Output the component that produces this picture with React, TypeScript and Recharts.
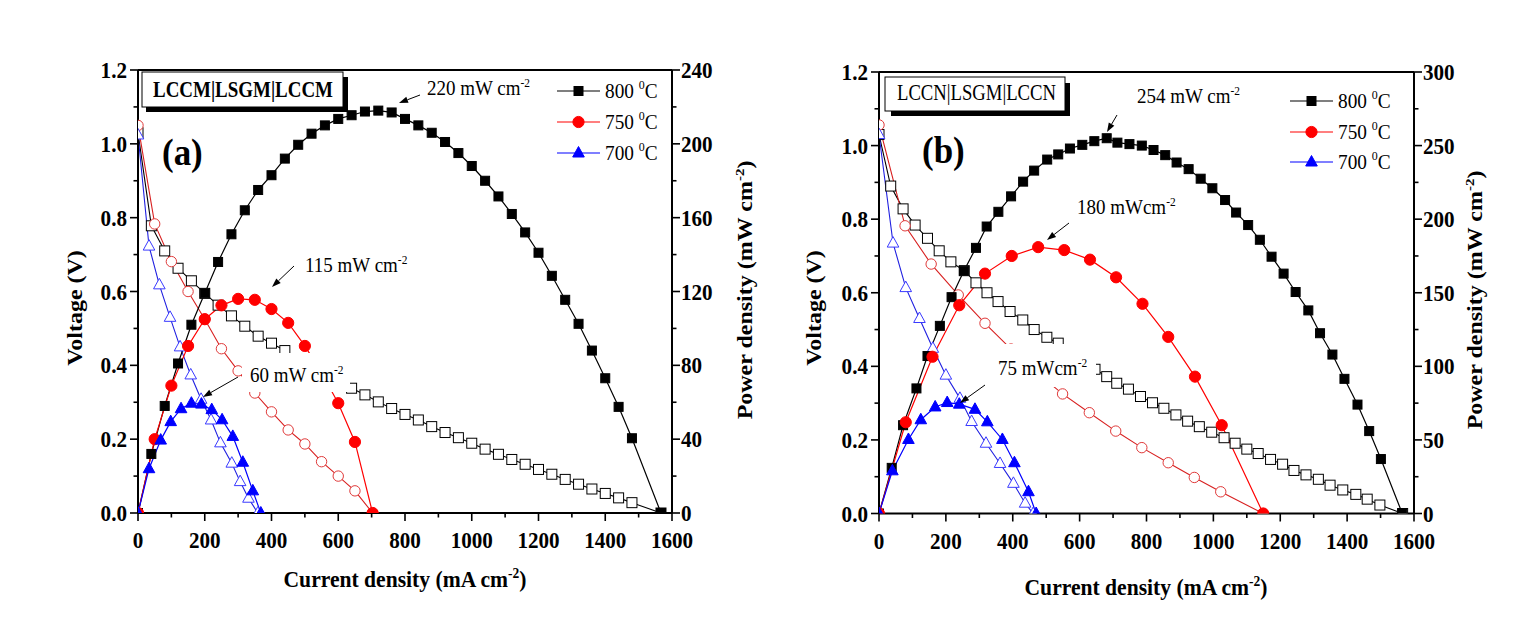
import React from 'react';
import { LineChart, Line, XAxis, YAxis, ReferenceLine } from 'recharts';

// ---------- Panel (a): LCCM|LSGM|LCCM ----------
const a800Px = [0,40,80,120,160,200,240,280,320,360,400,440,480,520,560,600,640,680,720,760,800,840,880,920,960,1000,1040,1080,1120,1160,1200,1240,1280,1320,1360,1400,1440,1480,1567];
const a800P = [0,32,58,81,102,119,136,151,164,175,183,192,199.5,205.5,210,213.5,215.5,217.5,218,217,213.5,210,206,201,195,188,180,171.5,162,152,141,128.5,115.5,102.5,88,73,57.5,40.5,0];
const a800Vx = a800Px;
const a800V = [1.03,0.778,0.71,0.663,0.629,0.595,0.563,0.534,0.506,0.479,0.46,0.44,0.415,0.395,0.375,0.356,0.338,0.32,0.301,0.283,0.267,0.252,0.234,0.218,0.204,0.189,0.173,0.159,0.145,0.132,0.118,0.105,0.091,0.078,0.065,0.053,0.041,0.028,0];

const a750Px = [0,50,100,150,200,250,300,350,400,450,500,550,600,650,703];
const a750P = [0,40,69,90.5,105,112.5,116,115.5,110.5,103,90.5,76,59.5,38.5,0];
const a750Vx = [0,50,100,150,200,250,300,350,400,450,500,550,600,650,703];
const a750V = [1.05,0.783,0.681,0.6,0.525,0.445,0.385,0.325,0.274,0.225,0.187,0.139,0.1,0.06,0];

const a700Px = [0,33,68,98,129,160,190,221,252,284,314,344,368];
const a700P = [0,24,39.5,49.5,56.5,59.5,59,56,50.5,41.5,27.5,12,0];
const a700Vx = [0,33,64,96,126,158,189,219,247,281,306,331,359];
const a700V = [1.024,0.723,0.618,0.53,0.45,0.374,0.308,0.252,0.19,0.135,0.085,0.04,0];

// ---------- Panel (b): LCCN|LSGM|LCCN ----------
const b800Px = [0,38,72,112,145,182,217,254,290,322,357,395,431,464,503,536,571,608,644,681,713,749,786,821,856,890,926,962,997,1035,1068,1104,1139,1174,1210,1246,1284,1319,1356,1392,1431,1466,1501,1565];
const b800P = [0,31,60,85,107,127.5,147,165,180.5,195,205,215.5,225.5,233,240.5,244,248,250.5,253,255,252,251,250,247,243.5,238.5,234,227.5,221,213,204.5,196,186,174.5,163,150.5,138,122.5,108,91.5,74,56,37,0];
const b800Vx = [0,35,72,108,145,180,215,255,290,323,356,392,430,464,502,536,571,608,646,681,711,746,782,818,852,888,923,958,995,1032,1065,1100,1134,1171,1207,1241,1277,1314,1349,1387,1426,1460,1498,1566];
const b800V = [1.03,0.89,0.828,0.784,0.748,0.714,0.684,0.66,0.627,0.6,0.576,0.549,0.526,0.5,0.479,0.463,0.44,0.42,0.392,0.372,0.354,0.338,0.318,0.301,0.286,0.268,0.251,0.236,0.221,0.206,0.191,0.175,0.163,0.147,0.134,0.117,0.105,0.093,0.077,0.064,0.052,0.039,0.023,0];

const b750Px = [0,80,160,240,317,397,476,554,631,709,788,865,945,1025,1149];
const b750P = [0,62,106.5,141.5,163,175,181,179,172.5,160.5,142.5,120,93,60,0];
const b750Vx = [0,78,156,237,317,395,472,549,629,708,786,865,943,1022,1149];
const b750V = [1.056,0.782,0.678,0.594,0.517,0.447,0.383,0.325,0.274,0.224,0.179,0.138,0.098,0.059,0];

const b700Px = [0,40,88,125,168,204,240,287,324,369,405,447,470];
const b700P = [0,29,50.3,63.7,72.4,75.4,74.3,70.8,62.3,50.3,34.5,14.8,0];
const b700Vx = [0,42,80,121,161,200,242,277,320,362,402,437,461];
const b700V = [1.03,0.735,0.614,0.53,0.449,0.376,0.313,0.25,0.191,0.136,0.082,0.028,0];

// ---------- ticks & labels ----------
const xTicks = [0,100,200,300,400,500,600,700,800,900,1000,1100,1200,1300,1400,1500,1600];
const vTicks = [0,0.1,0.2,0.3,0.4,0.5,0.6,0.7,0.8,0.9,1.0,1.1,1.2];
const pTicksA = [0,20,40,60,80,100,120,140,160,180,200,220,240];
const pTicksB = [0,25,50,75,100,125,150,175,200,225,250,275,300];
const legendTemps = ['800', '750', '700'];

const FONT = "'Liberation Serif', 'DejaVu Serif', 'Noto Serif', serif";
const RED = '#ff0000';
const BLUE = '#0000ff';
const SX = 0.88; // horizontal squeeze of the original figure's glyphs

const pts = (xs: number[], ys: number[]) => xs.map((x, i) => ({ x, y: ys[i] }));

type Kind = 'square' | 'circle' | 'triangle';

function Marker({ kind, cx, cy, filled, color }: { kind: Kind; cx: number; cy: number; filled: boolean; color: string }) {
  const fill = filled ? color : '#fff';
  if (kind === 'square') {
    const s = filled ? 9 : 10;
    return <rect x={cx - s / 2} y={cy - s / 2} width={s} height={s} fill={fill} stroke={color} strokeWidth={1} />;
  }
  if (kind === 'circle') {
    return <circle cx={cx} cy={cy} r={filled ? 5.6 : 5.2} fill={fill} stroke={filled ? color : '#e03a3a'} strokeWidth={1} />;
  }
  return (
    <polygon
      points={`${cx},${cy - 6.5} ${cx + 5.8},${cy + 4} ${cx - 5.8},${cy + 4}`}
      fill={fill}
      stroke={filled ? color : '#3a3aff'}
      strokeWidth={1}
    />
  );
}

const makeDot = (kind: Kind, filled: boolean, color: string) => (props: any) => {
  const { cx, cy, index } = props;
  if (cx == null || cy == null) return <g key={`e${index}`} />;
  return (
    <g key={`d${index}`}>
      <Marker kind={kind} cx={cx} cy={cy} filled={filled} color={color} />
    </g>
  );
};

function SText({ x, y, anchor = 'start', size, bold = false, children, sx = SX }: any) {
  return (
    <text
      transform={`translate(${x},${y}) scale(${sx},1)`}
      x={0}
      y={0}
      textAnchor={anchor}
      fontSize={size}
      fontWeight={bold ? 'bold' : 'normal'}
      fontFamily={FONT}
      style={{ fontFamily: FONT }}
      fill="#000"
    >
      {children}
    </text>
  );
}

const XTick = (props: any) => {
  const { x, y, payload } = props;
  const v = payload.value;
  const major = v % 200 === 0;
  return (
    <g>
      <line x1={x} y1={y} x2={x} y2={y + (major ? 8 : 4.5)} stroke="#000" strokeWidth={1.6} />
      {major && (
        <SText x={x} y={y + 35} anchor="middle" size={24} bold>
          {v}
        </SText>
      )}
    </g>
  );
};

const VTick = (props: any) => {
  const { x, y, payload, index } = props;
  const major = index % 2 === 0;
  return (
    <g>
      <line x1={x} y1={y} x2={x - (major ? 8 : 4.5)} y2={y} stroke="#000" strokeWidth={1.6} />
      {major && (
        <SText x={x - 11} y={y + 8} anchor="end" size={24} bold>
          {Number(payload.value).toFixed(1)}
        </SText>
      )}
    </g>
  );
};

const PTick = (props: any) => {
  const { x, y, payload, index } = props;
  const major = index % 2 === 0;
  return (
    <g>
      <line x1={x} y1={y} x2={x + (major ? 8 : 4.5)} y2={y} stroke="#000" strokeWidth={1.6} />
      {major && (
        <SText x={x + 9} y={y + 8} anchor="start" size={24} bold>
          {payload.value}
        </SText>
      )}
    </g>
  );
};

type Series = { vx: number[]; v: number[]; px: number[]; p: number[]; kind: Kind; color: string; vColor: string };

function Panel({ series, pMax, pTicks, margin }: { series: Series[]; pMax: number; pTicks: number[]; margin: any }) {
  return (
    <LineChart width={761} height={617} margin={margin}>
      <XAxis
        xAxisId="x"
        type="number"
        dataKey="x"
        domain={[0, 1600]}
        ticks={xTicks}
        interval={0}
        allowDataOverflow
        tick={(p: any) => <XTick {...p} />}
        tickLine={false}
        tickSize={0}
        tickMargin={0}
        height={40}
        axisLine={{ stroke: '#000', strokeWidth: 2 }}
      />
      <YAxis
        yAxisId="v"
        orientation="left"
        type="number"
        domain={[0, 1.2]}
        ticks={vTicks}
        interval={0}
        allowDataOverflow
        tick={(p: any) => <VTick {...p} />}
        tickLine={false}
        tickSize={0}
        tickMargin={0}
        width={60}
        axisLine={{ stroke: '#000', strokeWidth: 2 }}
      />
      <YAxis
        yAxisId="p"
        orientation="right"
        type="number"
        domain={[0, pMax]}
        ticks={pTicks}
        interval={0}
        allowDataOverflow
        tick={(p: any) => <PTick {...p} />}
        tickLine={false}
        tickSize={0}
        tickMargin={0}
        width={60}
        axisLine={{ stroke: '#000', strokeWidth: 2 }}
      />
      <ReferenceLine xAxisId="x" yAxisId="v" y={1.2} stroke="#000" strokeWidth={2} />
      {series.map((s, i) => (
        <Line
          key={`v${i}`}
          xAxisId="x"
          yAxisId="v"
          data={pts(s.vx, s.v)}
          dataKey="y"
          type="linear"
          stroke={s.vColor}
          strokeWidth={1.1}
          dot={makeDot(s.kind, false, s.color)}
          activeDot={false}
          isAnimationActive={false}
        />
      ))}
      {series.map((s, i) => (
        <Line
          key={`p${i}`}
          xAxisId="x"
          yAxisId="p"
          data={pts(s.px, s.p)}
          dataKey="y"
          type="linear"
          stroke={s.color}
          strokeWidth={1.2}
          dot={makeDot(s.kind, true, s.color)}
          activeDot={false}
          isAnimationActive={false}
        />
      ))}
    </LineChart>
  );
}

function Arrow({ x1, y1, x2, y2 }: { x1: number; y1: number; x2: number; y2: number }) {
  const ang = Math.atan2(y2 - y1, x2 - x1);
  const L = 9;
  const W = 3.2;
  const bx = x2 - L * Math.cos(ang);
  const by = y2 - L * Math.sin(ang);
  const px = -Math.sin(ang) * W;
  const py = Math.cos(ang) * W;
  return (
    <g>
      <line x1={x1} y1={y1} x2={bx} y2={by} stroke="#000" strokeWidth={1} />
      <polygon points={`${x2},${y2} ${bx + px},${by + py} ${bx - px},${by - py}`} fill="#000" />
    </g>
  );
}

function Ann({ x, y, value, unit }: { x: number; y: number; value: string; unit: string }) {
  return (
    <SText x={x} y={y} size={20} sx={0.95}>
      {value} {unit}
      <tspan dy={-8} fontSize={12}>-2</tspan>
    </SText>
  );
}

function LegendRow({ x, y, kind, color, label }: { x: number; y: number; kind: Kind; color: string; label: string }) {
  return (
    <g>
      <line x1={x} y1={y} x2={x + 43} y2={y} stroke={color} strokeWidth={1.2} />
      <Marker kind={kind} cx={x + 21.5} cy={y} filled color={color} />
      <SText x={x + 48} y={y + 7} size={21} sx={0.92}>
        {label}{' '}
        <tspan dy={-9} fontSize={13}>0</tspan>
        <tspan dy={9}>C</tspan>
      </SText>
    </g>
  );
}

function VText({ cx, cy, children }: any) {
  return (
    <text
      transform={`translate(${cx},${cy}) scale(${SX},1) rotate(-90)`}
      textAnchor="middle"
      fontSize={24}
      fontWeight="bold"
      fontFamily={FONT}
      style={{ fontFamily: FONT }}
      fill="#000"
    >
      {children}
    </text>
  );
}

function Overlay() {
  return (
    <svg width={1522} height={617} style={{ position: 'absolute', left: 0, top: 0, pointerEvents: 'none', fontFamily: FONT }}>
      {/* white label backgrounds that hide the curves */}
      <rect x={242} y={353} width={108} height={39} fill="#fff" />
      <rect x={997} y={344} width={99} height={43} fill="#fff" />

      {/* panel (a) title box */}
      <rect x={146} y={77} width={202} height={35} fill="#000" />
      <rect x={142} y={72} width={201} height={35} fill="#fff" stroke="#000" strokeWidth={1} />
      <text x={153} y={97} fontSize={23} fontWeight="bold" fontFamily={FONT} style={{ fontFamily: FONT }} textLength={180} lengthAdjust="spacingAndGlyphs">
        LCCM|LSGM|LCCM
      </text>
      <SText x={162} y={165} size={38} bold sx={0.92}>(a)</SText>

      {/* panel (b) title box */}
      <rect x={891} y={83} width={179} height={33} fill="#000" />
      <rect x={885} y={77} width={180} height={34} fill="#fff" stroke="#000" strokeWidth={1} />
      <text x={897} y={100} fontSize={23} fontFamily={FONT} style={{ fontFamily: FONT }} textLength={159} lengthAdjust="spacingAndGlyphs">
        LCCN|LSGM|LCCN
      </text>
      <SText x={922} y={163} size={38} bold sx={0.92}>(b)</SText>

      {/* annotations (a) */}
      <Ann x={427} y={95} value="220" unit="mW cm" />
      <Arrow x1={420} y1={95} x2={399} y2={103} />
      <Ann x={305} y={272} value="115" unit="mW cm" />
      <Arrow x1={294} y1={266} x2={272} y2={287} />
      <Ann x={250} y={382} value="60" unit="mW cm" />
      <Arrow x1={238} y1={377} x2={203} y2={397} />

      {/* annotations (b) */}
      <Ann x={1137} y={103} value="254" unit="mW cm" />
      <Arrow x1={1117} y1={115} x2={1107} y2={132} />
      <Ann x={1077} y={214} value="180" unit="mWcm" />
      <Arrow x1={1069} y1={223} x2={1047} y2={240} />
      <Ann x={998} y={375} value="75" unit="mWcm" />
      <Arrow x1={985} y1={385} x2={960} y2={403} />

      {/* legends */}
      <LegendRow x={557} y={91} kind="square" color="#000" label={legendTemps[0]} />
      <LegendRow x={557} y={122} kind="circle" color={RED} label={legendTemps[1]} />
      <LegendRow x={557} y={153} kind="triangle" color={BLUE} label={legendTemps[2]} />
      <LegendRow x={1290} y={101} kind="square" color="#000" label={legendTemps[0]} />
      <LegendRow x={1290} y={132} kind="circle" color={RED} label={legendTemps[1]} />
      <LegendRow x={1290} y={162} kind="triangle" color={BLUE} label={legendTemps[2]} />

      {/* axis titles */}
      <VText cx={82} cy={308}>Voltage (V)</VText>
      <VText cx={821} cy={308}>Voltage (V)</VText>
      <VText cx={752} cy={290}>
        Power density (mW cm<tspan dy={-9} fontSize={15}>-2</tspan><tspan dy={9}>)</tspan>
      </VText>
      <VText cx={1482} cy={300}>
        Power density (mW cm<tspan dy={-9} fontSize={15}>-2</tspan><tspan dy={9}>)</tspan>
      </VText>
      <SText x={405} y={587} anchor="middle" size={24} bold sx={0.9}>
        Current density (mA cm<tspan dy={-9} fontSize={15}>-2</tspan><tspan dy={9}>)</tspan>
      </SText>
      <SText x={1146} y={595} anchor="middle" size={24} bold sx={0.9}>
        Current density (mA cm<tspan dy={-9} fontSize={15}>-2</tspan><tspan dy={9}>)</tspan>
      </SText>
    </svg>
  );
}

export default function App() {
  const seriesA: Series[] = [
    { vx: a800Vx, v: a800V, px: a800Px, p: a800P, kind: 'square', color: '#000', vColor: '#000' },
    { vx: a750Vx, v: a750V, px: a750Px, p: a750P, kind: 'circle', color: RED, vColor: '#d82020' },
    { vx: a700Vx, v: a700V, px: a700Px, p: a700P, kind: 'triangle', color: BLUE, vColor: '#2020e0' },
  ];
  const seriesB: Series[] = [
    { vx: b800Vx, v: b800V, px: b800Px, p: b800P, kind: 'square', color: '#000', vColor: '#000' },
    { vx: b750Vx, v: b750V, px: b750Px, p: b750P, kind: 'circle', color: RED, vColor: '#d82020' },
    { vx: b700Vx, v: b700V, px: b700Px, p: b700P, kind: 'triangle', color: BLUE, vColor: '#2020e0' },
  ];
  return (
    <div style={{ position: 'absolute', left: 0, top: 0, width: 1522, height: 617, background: '#fff', fontFamily: FONT }}>
      <div style={{ position: 'absolute', left: 0, top: 0 }}>
        <Panel series={seriesA} pMax={240} pTicks={pTicksA} margin={{ top: 70, right: 29, bottom: 64, left: 78 }} />
      </div>
      <div style={{ position: 'absolute', left: 761, top: 0 }}>
        <Panel series={seriesB} pMax={300} pTicks={pTicksB} margin={{ top: 72, right: 48, bottom: 63.5, left: 58 }} />
      </div>
      <Overlay />
    </div>
  );
}
